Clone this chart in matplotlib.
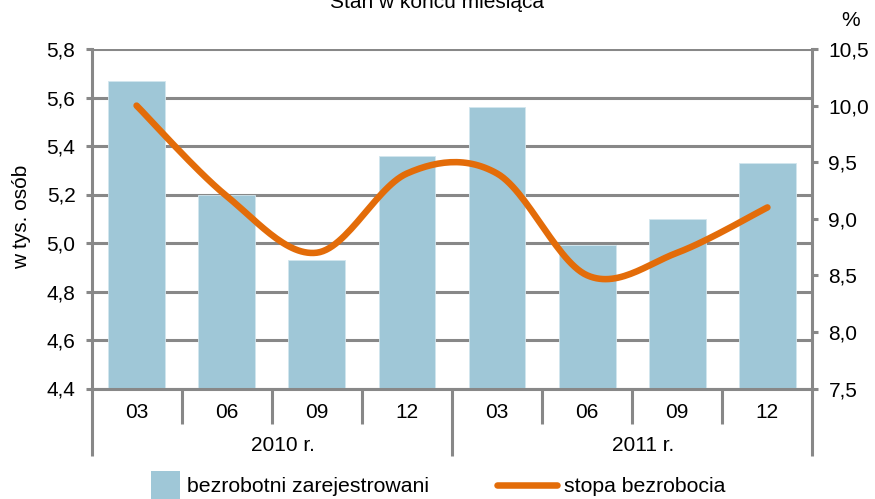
import numpy as np
import matplotlib
matplotlib.use("Agg")
import matplotlib.pyplot as plt
from matplotlib.patches import Patch, Rectangle
from matplotlib.lines import Line2D
from matplotlib.legend_handler import HandlerPatch
from matplotlib.transforms import blended_transform_factory, ScaledTranslation
from matplotlib.ticker import FuncFormatter

months = ["03", "06", "09", "12", "03", "06", "09", "12"]
years = ["2010 r.", "2011 r."]
unemployed = [5.67, 5.20, 4.93, 5.36, 5.56, 4.99, 5.10, 5.33]  # w tys. osob
rate = [10.0, 9.2, 8.7, 9.4, 9.4, 8.5, 8.7, 9.1]  # %

BAR = "#9fc7d7"
LINE = "#e36c09"
GRID = "#888888"

plt.rcParams["font.family"] = ["Liberation Sans", "DejaVu Sans"]
plt.rcParams["font.size"] = 15


def smooth_line(y, steps=30):
    # wygladzona linia jak w Excelu (krzywe Beziera, Catmull-Rom)
    x = np.arange(len(y), dtype=float)
    pts = np.column_stack([x, np.asarray(y, dtype=float)])
    ext = np.vstack([pts[0], pts, pts[-1]])
    t = np.linspace(0, 1, steps)[:, None]
    out = []
    for i in range(len(pts) - 1):
        p0, p3 = ext[i + 1], ext[i + 2]
        c1 = p0 + (ext[i + 2] - ext[i]) / 6
        c2 = p3 - (ext[i + 3] - ext[i + 1]) / 6
        seg = (1 - t) ** 3 * p0 + 3 * (1 - t) ** 2 * t * c1 + 3 * (1 - t) * t ** 2 * c2 + t ** 3 * p3
        out.append(seg if i == 0 else seg[1:])
    out = np.vstack(out)
    return out[:, 0], out[:, 1]


def square_patch(legend, orig_handle, xdescent, ydescent, width, height, fontsize):
    s = 1.37 * fontsize
    return Rectangle((width - s - xdescent, height / 2 - s / 2 - ydescent), s, s)


comma = FuncFormatter(lambda v, p: ("%.1f" % v).replace(".", ","))

fig = plt.figure(figsize=(8.75, 4.99), dpi=100)
ax = fig.add_axes([91.5 / 875, 1 - 388.5 / 499, 721 / 875, 339.5 / 499])
ax2 = ax.twinx()

x = np.arange(len(months))
ax.bar(x, unemployed, width=0.63, color=BAR, edgecolor="#d2e6ee", linewidth=0.6, zorder=2)
ax.set_xlim(-0.5, len(months) - 0.5)
ax.set_ylim(4.4, 5.8)
ax.set_yticks(np.arange(4.4, 5.81, 0.2))
ax.yaxis.set_major_formatter(comma)
ax.set_axisbelow(True)
ax.yaxis.grid(True, color=GRID, linewidth=2.2)
ax.set_xticks([])

sx, sy = smooth_line(rate)
ax2.plot(sx, sy, color=LINE, linewidth=4.7, solid_capstyle="round", zorder=3)
ax2.set_ylim(7.5, 10.5)
ax2.set_yticks(np.arange(7.5, 10.51, 0.5))
ax2.yaxis.set_major_formatter(comma)

for a in (ax, ax2):
    for side in a.spines:
        a.spines[side].set_color(GRID)
        a.spines[side].set_linewidth(2.2)
    a.spines["top"].set_visible(False)
    a.tick_params(axis="y", color=GRID, width=2.2, length=4.5, pad=7, labelsize=15)
ax2.spines["left"].set_visible(False)
ax2.spines["bottom"].set_visible(False)
ax.spines["right"].set_visible(False)

# os kategorii: miesiace i lata
trans = blended_transform_factory(ax.transData, ax.transAxes)
for i, m in enumerate(months):
    ax.text(i, -24 / 339.5, m, transform=trans, ha="center", va="center", fontsize=15)
bounds = np.arange(len(months) + 1) - 0.5
per_year = len(months) // len(years)
for j, b in enumerate(bounds):
    low = -67 / 339.5 if j % per_year == 0 else -35 / 339.5
    ax.plot([b, b], [0, low], transform=trans, color=GRID, linewidth=2.2, clip_on=False,
            solid_capstyle="butt")
shift = ScaledTranslation(11 / 100, 0, fig.dpi_scale_trans)
for k, yr in enumerate(years):
    xc = k * per_year + (per_year - 1) / 2
    ax.text(xc, -57 / 339.5, yr, transform=trans + shift, ha="center", va="center", fontsize=15)

ax.set_ylabel("w tys. osób", fontsize=15)
ax.yaxis.set_label_coords(-60.5 / 721, 171.5 / 339.5)
ax2.text(759.5 / 721, 367.5 / 339.5, "%", transform=ax2.transAxes, ha="center", va="center", fontsize=15)
fig.text(0.5, 1 - 7.5 / 499, "Stan w końcu miesiąca", ha="center", va="baseline", fontsize=15)

handles = [Patch(facecolor=BAR, label="bezrobotni zarejestrowani"),
           Line2D([], [], color=LINE, linewidth=4.7, solid_capstyle="round", label="stopa bezrobocia")]
fig.legend(handles=handles, ncol=2, frameon=False, loc="center",
           bbox_to_anchor=(423 / 875, 1 - 487 / 499), borderpad=0,
           handlelength=2.8, handletextpad=0.35, columnspacing=3.2, fontsize=15.3,
           handler_map={Patch: HandlerPatch(patch_func=square_patch)})

fig.savefig("out.png", dpi=100)
